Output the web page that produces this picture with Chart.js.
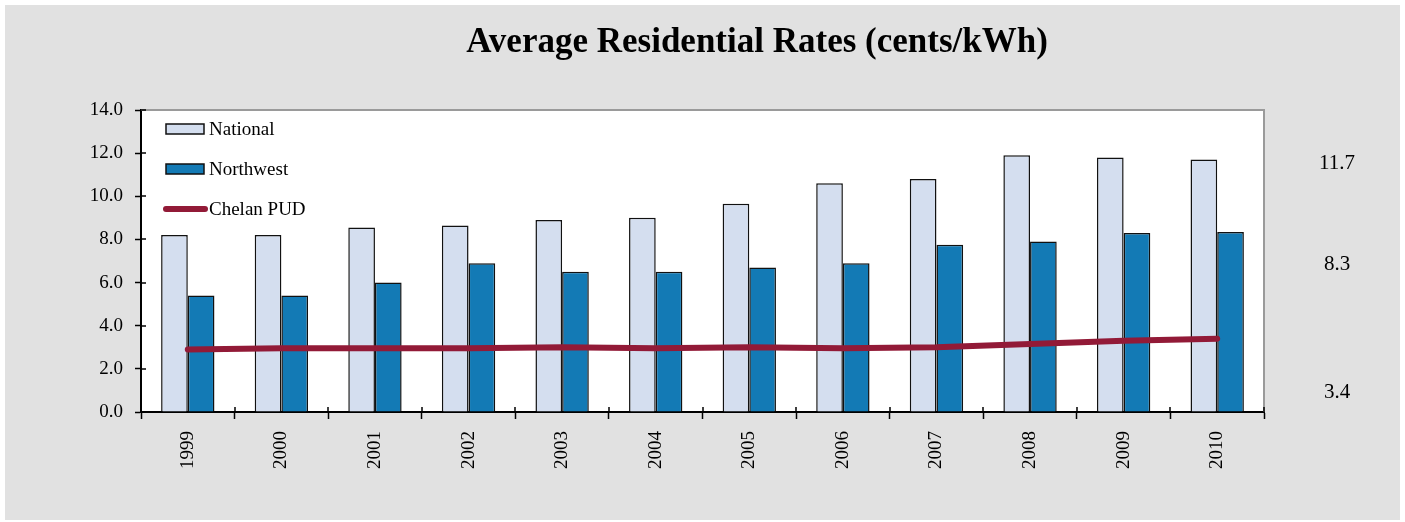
<!DOCTYPE html>
<html>
<head>
<meta charset="utf-8">
<script src="https://cdn.jsdelivr.net/npm/chart.js@4"></script>
<style>
  html, body { margin: 0; padding: 0; background: #fff; }
  canvas { display: block; }
</style>
</head>
<body>
<canvas id="chart" width="1405" height="522"></canvas>
<script>
// data
const years = ['1999', '2000', '2001', '2002', '2003', '2004', '2005', '2006', '2007', '2008', '2009', '2010']
const national = [8.2, 8.2, 8.55, 8.65, 8.9, 9.0, 9.65, 10.6, 10.8, 11.9, 11.8, 11.7]
const northwest = [5.4, 5.4, 6.0, 6.9, 6.5, 6.5, 6.7, 6.9, 7.75, 7.9, 8.3, 8.35]
const chelan = [2.9, 2.95, 2.95, 2.95, 3.0, 2.95, 3.0, 2.95, 3.0, 3.15, 3.3, 3.4]
const yTicks = [0, 2, 4, 6, 8, 10, 12, 14]

const TITLE = 'Average Residential Rates (cents/kWh)'
const FONT = '"Liberation Serif", "Times New Roman", serif'

// grey frame, white plot area, title, legend, inner tick halves, last-value labels
const framePlugin = {
  id: 'frame',
  beforeDraw(chart) {
    const { ctx, chartArea: a } = chart
    ctx.save()
    ctx.fillStyle = '#ffffff'
    ctx.fillRect(0, 0, chart.width, chart.height)
    ctx.fillStyle = '#e1e1e1'
    ctx.fillRect(5, 5, chart.width - 10, chart.height - 7)
    ctx.fillStyle = '#ffffff'
    ctx.fillRect(a.left, a.top, a.right - a.left, a.bottom - a.top)

    ctx.fillStyle = '#000'
    ctx.font = 'bold 35px ' + FONT
    ctx.textAlign = 'center'
    ctx.textBaseline = 'alphabetic'
    ctx.fillText(TITLE, 757, 52)
    ctx.restore()
  },
  afterDraw(chart) {
    const { ctx, chartArea: a, scales } = chart
    ctx.save()
    // grey top / right border of plot area
    ctx.strokeStyle = '#9a9a9a'
    ctx.lineWidth = 2
    ctx.beginPath()
    ctx.moveTo(a.left, a.top)
    ctx.lineTo(a.right, a.top)
    ctx.lineTo(a.right, a.bottom)
    ctx.stroke()

    // ticks cross the axes: draw the inner halves
    ctx.strokeStyle = '#000'
    ctx.lineWidth = 1.5
    ctx.beginPath()
    scales.y.ticks.forEach((t, i) => {
      const y = Math.round(scales.y.getPixelForTick(i))
      ctx.moveTo(a.left, y)
      ctx.lineTo(a.left + 5, y)
    })
    const step = (a.right - a.left) / years.length
    for (let i = 0; i <= years.length; i++) {
      const x = Math.round(a.left + i * step)
      ctx.moveTo(x, a.bottom)
      ctx.lineTo(x, a.bottom - 5)
    }
    ctx.stroke()

    // legend
    ctx.font = '19px ' + FONT
    ctx.textAlign = 'left'
    ctx.textBaseline = 'middle'
    const order = [1, 2, 0]
    order.forEach((di, k) => {
      const ds = chart.data.datasets[di]
      const cy = a.top + 19 + k * 40
      if (ds.type === 'line') {
        ctx.strokeStyle = ds.borderColor
        ctx.lineWidth = 6
        ctx.lineCap = 'round'
        ctx.beginPath()
        ctx.moveTo(a.left + 25, cy)
        ctx.lineTo(a.left + 64, cy)
        ctx.stroke()
        ctx.lineCap = 'butt'
      } else {
        ctx.fillStyle = ds.backgroundColor
        ctx.fillRect(a.left + 25, cy - 5, 38, 10)
        ctx.strokeStyle = '#111'
        ctx.lineWidth = 1.5
        ctx.strokeRect(a.left + 25, cy - 5, 38, 10)
      }
      ctx.fillStyle = '#000'
      ctx.fillText(ds.label, a.left + 68, cy + 1)
    })

    // last values printed to the right of the plot
    ctx.font = '21px ' + FONT
    ctx.textAlign = 'center'
    const x = a.right + 73
    ctx.fillText(national[national.length - 1].toFixed(1), x, a.top + 53)
    ctx.fillText(northwest[northwest.length - 1].toFixed(1), x, a.top + 154)
    ctx.fillText(chelan[chelan.length - 1].toFixed(1), x, a.top + 282)
    ctx.restore()
  }
}

Chart.defaults.font.family = FONT
Chart.defaults.color = '#000'

new Chart(document.getElementById('chart'), {
  type: 'bar',
  data: {
    labels: years,
    datasets: [
      {
        label: 'Chelan PUD',
        type: 'line',
        data: chelan,
        borderColor: '#921a37',
        backgroundColor: '#921a37',
        borderWidth: 6,
        borderCapStyle: 'round',
        pointRadius: 0,
        order: 0,
      },
      {
        label: 'National',
        data: national,
        backgroundColor: '#d4deef',
        borderColor: '#111',
        borderWidth: 1.5,
        order: 1,
      },
      {
        label: 'Northwest',
        data: northwest,
        backgroundColor: '#137ab5',
        borderColor: '#111',
        borderWidth: 1.5,
        order: 1,
      },
    ],
  },
  options: {
    responsive: false,
    animation: false,
    devicePixelRatio: 1,
    categoryPercentage: 0.57,
    barPercentage: 1,
    layout: { padding: { left: 0, right: 141, top: 110, bottom: 0 } },
    plugins: {
      title: { display: false },
      legend: { display: false },
      tooltip: { enabled: false },
    },
    scales: {
      x: {
        offset: true,
        grid: { offset: true, drawOnChartArea: false, tickLength: 7, color: '#000', tickWidth: 1.5 },
        border: { color: '#000', width: 2 },
        ticks: { minRotation: 90, maxRotation: 90, padding: 12, font: { size: 19 } },
        afterFit(scale) { scale.height = 110 },
      },
      y: {
        min: 0,
        max: 14,
        afterBuildTicks(scale) { scale.ticks = yTicks.map(v => ({ value: v })) },
        grid: { drawOnChartArea: false, tickLength: 6, color: '#000', tickWidth: 1.5 },
        border: { color: '#000', width: 2 },
        ticks: { padding: 12, font: { size: 19 }, callback: v => Number(v).toFixed(1) },
        afterFit(scale) { scale.width = 141 },
      },
    },
  },
  plugins: [framePlugin],
})
</script>
</body>
</html>
